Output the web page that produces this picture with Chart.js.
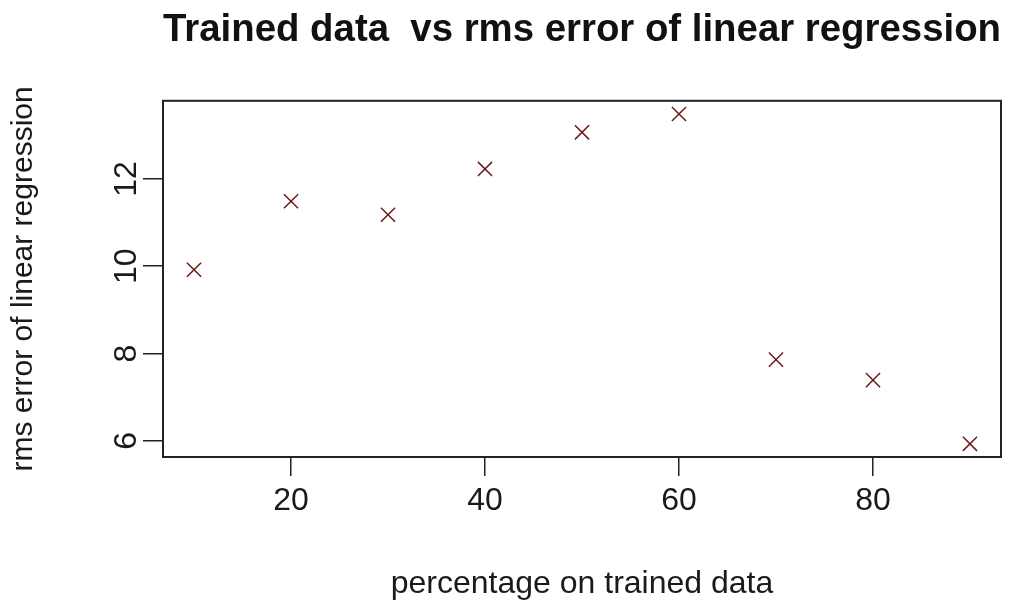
<!DOCTYPE html>
<html><head><meta charset="utf-8">
<script src="https://cdn.jsdelivr.net/npm/chart.js@4/dist/chart.umd.min.js"></script>
<style>html,body{margin:0;padding:0;background:#fff;}canvas{display:block;}</style>
</head><body>
<canvas id="c" width="1032" height="607"></canvas>
<script>
const trainedPct = [10, 20, 30, 40, 50, 60, 70, 80, 90];
const rmsError = [9.92, 11.49, 11.18, 12.23, 13.07, 13.49, 7.86, 7.39, 5.93];
const xTickValues = [20, 40, 60, 80];
const yTickValues = [6, 8, 10, 12];
const chartTitle = 'Trained data  vs rms error of linear regression';
const xTitle = 'percentage on trained data';
const yTitle = 'rms error of linear regression';

// R-style 4% axis extension
function ext(arr) {
  const lo = Math.min(...arr), hi = Math.max(...arr), p = 0.04 * (hi - lo);
  return [lo - p, hi + p];
}
const [xMin, xMax] = ext(trainedPct);
const [yMin, yMax] = ext(rmsError);

const FONT = 'Liberation Sans, Arial, sans-serif';
const INK = '#1a1a1a';

const boxPlugin = {
  id: 'plotBox',
  afterDraw(chart) {
    const {ctx, chartArea: a} = chart;
    ctx.save();
    ctx.strokeStyle = '#222';
    ctx.lineWidth = 2;
    ctx.strokeRect(a.left, a.top, a.right - a.left, a.bottom - a.top);
    ctx.restore();
  }
};

new Chart(document.getElementById('c'), {
  type: 'scatter',
  data: {
    datasets: [{
      data: trainedPct.map((x, i) => ({x: x, y: rmsError[i]})),
      pointStyle: 'crossRot',
      pointRadius: 10,
      pointHoverRadius: 10,
      borderColor: '#6b1a1a',
      backgroundColor: '#6b1a1a',
      borderWidth: 1.5,
      pointHoverBorderWidth: 1.5
    }]
  },
  options: {
    responsive: false,
    devicePixelRatio: 1,
    animation: false,
    events: [],
    layout: {padding: {left: 0, right: 31, top: 0, bottom: 0}},
    plugins: {
      legend: {display: false},
      tooltip: {enabled: false},
      title: {
        display: true,
        text: chartTitle,
        fullSize: false,
        color: '#111',
        font: {family: FONT, size: 39, weight: 'bold'},
        padding: {top: 7, bottom: 47}
      }
    },
    scales: {
      x: {
        type: 'linear',
        position: 'bottom',
        min: xMin,
        max: xMax,
        afterBuildTicks: s => { s.ticks = xTickValues.map(v => ({value: v})); },
        afterFit: s => { s.height = 150; },
        grid: {drawOnChartArea: false, drawTicks: true, tickLength: 19, color: '#222', lineWidth: 1.5},
        border: {display: false},
        ticks: {padding: 6, color: INK, font: {family: FONT, size: 32}, minRotation: 0, maxRotation: 0, autoSkip: false},
        title: {display: true, text: xTitle, color: INK, font: {family: FONT, size: 32}, padding: {top: 0, bottom: 4}}
      },
      y: {
        type: 'linear',
        position: 'left',
        min: yMin,
        max: yMax,
        afterBuildTicks: s => { s.ticks = yTickValues.map(v => ({value: v})); },
        afterFit: s => { s.width = 163; },
        grid: {drawOnChartArea: false, drawTicks: true, tickLength: 20, color: '#222', lineWidth: 1.5},
        border: {display: false},
        ticks: {padding: -2, crossAlign: 'center', minRotation: 90, maxRotation: 90, color: INK, font: {family: FONT, size: 32}, autoSkip: false},
        title: {display: true, text: yTitle, color: INK, font: {family: FONT, size: 30}, padding: {top: 6, bottom: 0}}
      }
    }
  },
  plugins: [boxPlugin]
});
</script>
</body></html>
